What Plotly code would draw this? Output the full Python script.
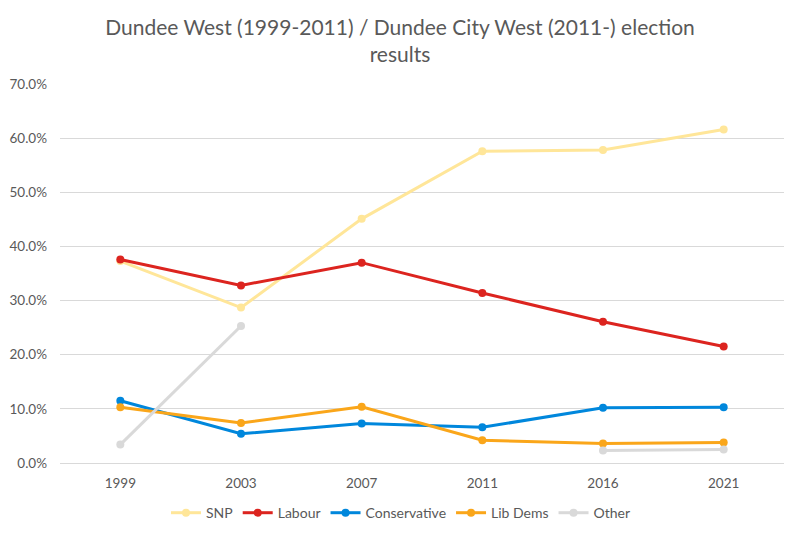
import plotly.graph_objects as go

years = ["1999", "2003", "2007", "2011", "2016", "2021"]
snp = [37.3, 28.7, 45.1, 57.6, 57.8, 61.6]
labour = [37.6, 32.8, 37.0, 31.4, 26.1, 21.5]
conservative = [11.5, 5.4, 7.3, 6.6, 10.2, 10.3]
lib_dems = [10.3, 7.4, 10.4, 4.2, 3.6, 3.8]
other = [3.4, 25.3, None, None, 2.3, 2.5]

series = [
    ("SNP", snp, "#FFE699"),
    ("Labour", labour, "#DC241F"),
    ("Conservative", conservative, "#0087DC"),
    ("Lib Dems", lib_dems, "#FAA61A"),
    ("Other", other, "#D9D9D9"),
]

font = "Lato, 'Open Sans', sans-serif"
grey = "#595959"

fig = go.Figure()
for name, vals, col in series:
    fig.add_trace(go.Scatter(
        x=years, y=vals, name=name, mode="lines+markers",
        line=dict(color=col, width=3),
        marker=dict(color=col, size=8),
        connectgaps=False,
    ))

fig.update_layout(
    width=800, height=534,
    margin=dict(l=60, r=16, t=83.5, b=71, autoexpand=False),
    paper_bgcolor="white", plot_bgcolor="white",
    font=dict(family=font, color=grey, size=13),
    title=dict(
        text="Dundee West (1999-2011) / Dundee City West (2011-) election<br>results",
        x=0.5, xref="container", xanchor="center", y=0.935, yanchor="top",
        font=dict(family=font, size=21, color=grey),
    ),
    xaxis=dict(
        type="category", range=[-0.5, 5.5], showgrid=False,
        showline=False, ticks="", tickfont=dict(size=13.5, color=grey),
        ticklabelstandoff=10, automargin=False,
    ),
    yaxis=dict(
        range=[0, 70], dtick=10, ticksuffix="%", tickformat=".1f",
        showgrid=True, gridcolor="#D9D9D9", gridwidth=1,
        zeroline=True, zerolinecolor="#D9D9D9", zerolinewidth=1,
        showline=False, ticks="", tickfont=dict(size=13.5, color=grey),
        ticklabelstandoff=12, automargin=False,
    ),
    legend=dict(
        orientation="h", x=0.471, xanchor="center", y=-0.09, yanchor="top",
        font=dict(size=14, color=grey), itemwidth=30,
    ),
)

fig.write_html("out.html")
